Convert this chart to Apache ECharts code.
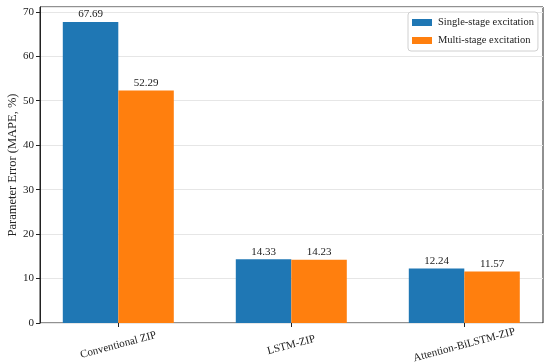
<!DOCTYPE html>
<html>
<head>
<meta charset="utf-8">
<script src="https://cdn.jsdelivr.net/npm/echarts@6/dist/echarts.min.js"></script>
<style>html,body{margin:0;padding:0;background:#fff;}#c{width:550px;height:363px;}</style>
</head>
<body>
<div id="c"></div>
<script>
const categories = ['Conventional ZIP', 'LSTM-ZIP', 'Attention-BiLSTM-ZIP'];
const singleStage = [67.69, 14.33, 12.24];
const multiStage = [52.29, 14.23, 11.57];
const yTicks = [0, 10, 20, 30, 40, 50, 60, 70];
const seriesNames = ['Single-stage excitation', 'Multi-stage excitation'];

const FONT = '"Liberation Serif", "DejaVu Serif", serif';
const yMax = 71.07;
const chart = echarts.init(document.getElementById('c'), null, {renderer: 'canvas'});
const labelCfg = {show: true, position: 'top', distance: 2, fontFamily: FONT, fontSize: 11, color: '#222',
  formatter: p => p.value.toFixed(2)};
chart.setOption({
  animation: false,
  backgroundColor: '#fff',
  textStyle: {fontFamily: FONT},
  grid: [
    {left: 40, right: 7, top: 7, bottom: 40, show: true, borderColor: '#222', borderWidth: 1, backgroundColor: 'transparent',
      containLabel: false, outerBoundsMode: 'none'},
    {left: 31.8, width: 519, top: 7, bottom: 40, containLabel: false, outerBoundsMode: 'none'}
  ],
  legend: {
    data: seriesNames, orient: 'vertical', left: 408, top: 12,
    itemWidth: 20, itemHeight: 7, itemGap: 7, icon: 'rect',
    padding: [5, 4, 5, 4],
    borderColor: '#d0d0d0', borderWidth: 1, borderRadius: 3, backgroundColor: '#fff',
    textStyle: {fontFamily: FONT, fontSize: 10.5, color: '#222', padding: [0, 0, 0, 1]}
  },
  xAxis: [
    {type: 'value', gridIndex: 0, show: false, min: 0, max: 1},
    {type: 'category', gridIndex: 1, data: categories,
      axisLine: {show: false},
      axisTick: {show: true, alignWithLabel: true, length: 4, lineStyle: {color: '#222'}},
      axisLabel: {fontFamily: FONT, fontSize: 11, color: '#222', rotate: 15, align: 'center', verticalAlign: 'middle', margin: 22, interval: 0},
      splitLine: {show: false}}
  ],
  yAxis: [
    {type: 'value', gridIndex: 0, min: 0, max: yMax, interval: 10,
      name: 'Parameter Error (MAPE, %)', nameLocation: 'middle', nameGap: 21, nameMoveOverlap: false,
      nameTextStyle: {fontFamily: FONT, fontSize: 12.5, color: '#222'},
      axisLine: {show: true, lineStyle: {color: '#222'}},
      axisTick: {show: true, length: 4, lineStyle: {color: '#222'}},
      axisLabel: {fontFamily: FONT, fontSize: 11, color: '#222', margin: 6, showMaxLabel: false,
        formatter: v => yTicks.includes(v) ? String(v) : ''},
      splitLine: {show: true, lineStyle: {color: '#e6e6e6', width: 1}}},
    {type: 'value', gridIndex: 1, min: 0, max: yMax, interval: 10, show: false, splitLine: {show: false}}
  ],
  series: [
    {name: seriesNames[0], type: 'bar', xAxisIndex: 1, yAxisIndex: 1, data: singleStage,
      barWidth: 55.5, barGap: '0%', itemStyle: {color: '#1f77b4'}, label: labelCfg},
    {name: seriesNames[1], type: 'bar', xAxisIndex: 1, yAxisIndex: 1, data: multiStage,
      barWidth: 55.5, barGap: '0%', itemStyle: {color: '#ff7f0e'}, label: labelCfg}
  ]
});
</script>
</body>
</html>
